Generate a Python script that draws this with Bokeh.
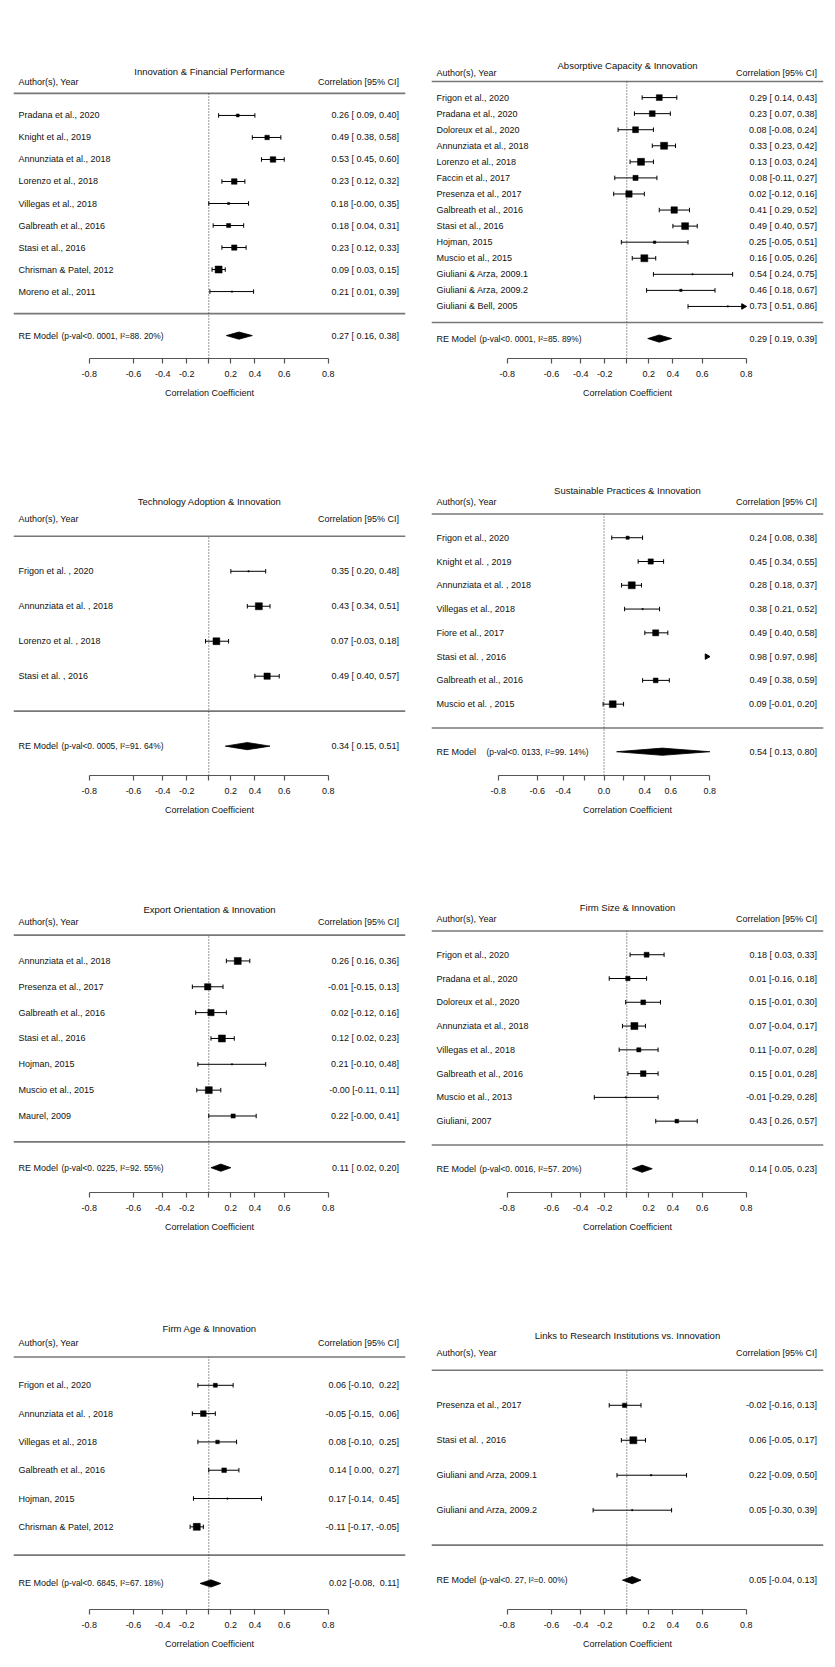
import numpy as np
from bokeh.plotting import figure
from bokeh.layouts import row, column
from bokeh.models import FixedTicker, CustomJSTickFormatter, Range1d, ColumnDataSource
from bokeh.embed import file_html
from bokeh.resources import INLINE
from bokeh.core.properties import value

# ---------------- data ----------------
p1_title = "Innovation & Financial Performance"
p1_studies = ["Pradana et al., 2020", "Knight et al., 2019", "Annunziata et al., 2018",
              "Lorenzo et al., 2018", "Villegas et al., 2018", "Galbreath et al., 2016",
              "Stasi et al., 2016", "Chrisman & Patel, 2012", "Moreno et al., 2011"]
p1_est = [0.26, 0.49, 0.53, 0.23, 0.18, 0.18, 0.23, 0.09, 0.21]
p1_lo = [0.09, 0.38, 0.45, 0.12, -0.0, 0.04, 0.12, 0.03, 0.01]
p1_hi = [0.40, 0.58, 0.60, 0.32, 0.35, 0.31, 0.33, 0.15, 0.39]
p1_re = [0.27, 0.16, 0.38]
p1_stats = "(p-val<0. 0001, I\u00b2=88. 20%)"
p1_i2 = 88.20

p2_title = "Absorptive Capacity & Innovation"
p2_studies = ["Frigon et al., 2020", "Pradana et al., 2020", "Doloreux et al., 2020",
              "Annunziata et al., 2018", "Lorenzo et al., 2018", "Faccin et al., 2017",
              "Presenza et al., 2017", "Galbreath et al., 2016", "Stasi et al., 2016",
              "Hojman, 2015", "Muscio et al., 2015", "Giuliani & Arza, 2009.1",
              "Giuliani & Arza, 2009.2", "Giuliani & Bell, 2005"]
p2_est = [0.29, 0.23, 0.08, 0.33, 0.13, 0.08, 0.02, 0.41, 0.49, 0.25, 0.16, 0.54, 0.46, 0.73]
p2_lo = [0.14, 0.07, -0.08, 0.23, 0.03, -0.11, -0.12, 0.29, 0.40, -0.05, 0.05, 0.24, 0.18, 0.51]
p2_hi = [0.43, 0.38, 0.24, 0.42, 0.24, 0.27, 0.16, 0.52, 0.57, 0.51, 0.26, 0.75, 0.67, 0.86]
p2_re = [0.29, 0.19, 0.39]
p2_stats = "(p-val<0. 0001, I\u00b2=85. 89%)"
p2_i2 = 85.89

p3_title = "Technology Adoption & Innovation"
p3_studies = ["Frigon et al. , 2020", "Annunziata et al. , 2018", "Lorenzo et al. , 2018",
              "Stasi et al. , 2016"]
p3_est = [0.35, 0.43, 0.07, 0.49]
p3_lo = [0.20, 0.34, -0.03, 0.40]
p3_hi = [0.48, 0.51, 0.18, 0.57]
p3_re = [0.34, 0.15, 0.51]
p3_stats = "(p-val<0. 0005, I\u00b2=91. 64%)"
p3_i2 = 91.64

p4_title = "Sustainable Practices & Innovation"
p4_studies = ["Frigon et al., 2020", "Knight et al. , 2019", "Annunziata et al. , 2018",
              "Villegas et al., 2018", "Fiore et al., 2017", "Stasi et al. , 2016",
              "Galbreath et al., 2016", "Muscio et al. , 2015"]
p4_est = [0.24, 0.45, 0.28, 0.38, 0.49, 0.98, 0.49, 0.09]
p4_lo = [0.08, 0.34, 0.18, 0.21, 0.40, 0.97, 0.38, -0.01]
p4_hi = [0.38, 0.55, 0.37, 0.52, 0.58, 0.98, 0.59, 0.20]
p4_re = [0.54, 0.13, 0.80]
p4_stats = "(p-val<0. 0133, I\u00b2=99. 14%)"
p4_i2 = 99.14

p5_title = "Export Orientation & Innovation"
p5_studies = ["Annunziata et al., 2018", "Presenza et al., 2017", "Galbreath et al., 2016",
              "Stasi et al., 2016", "Hojman, 2015", "Muscio et al., 2015", "Maurel, 2009"]
p5_est = [0.26, -0.01, 0.02, 0.12, 0.21, -0.0, 0.22]
p5_lo = [0.16, -0.15, -0.12, 0.02, -0.10, -0.11, -0.0]
p5_hi = [0.36, 0.13, 0.16, 0.23, 0.48, 0.11, 0.41]
p5_re = [0.11, 0.02, 0.20]
p5_stats = "(p-val<0. 0225, I\u00b2=92. 55%)"
p5_i2 = 92.55

p6_title = "Firm Size & Innovation"
p6_studies = ["Frigon et al., 2020", "Pradana et al., 2020", "Doloreux et al., 2020",
              "Annunziata et al., 2018", "Villegas et al., 2018", "Galbreath et al., 2016",
              "Muscio et al., 2013", "Giuliani, 2007"]
p6_est = [0.18, 0.01, 0.15, 0.07, 0.11, 0.15, -0.01, 0.43]
p6_lo = [0.03, -0.16, -0.01, -0.04, -0.07, 0.01, -0.29, 0.26]
p6_hi = [0.33, 0.18, 0.30, 0.17, 0.28, 0.28, 0.28, 0.57]
p6_re = [0.14, 0.05, 0.23]
p6_stats = "(p-val<0. 0016, I\u00b2=57. 20%)"
p6_i2 = 57.20

p7_title = "Firm Age & Innovation"
p7_studies = ["Frigon et al., 2020", "Annunziata et al. , 2018", "Villegas et al., 2018",
              "Galbreath et al., 2016", "Hojman, 2015", "Chrisman & Patel, 2012"]
p7_est = [0.06, -0.05, 0.08, 0.14, 0.17, -0.11]
p7_lo = [-0.10, -0.15, -0.10, 0.00, -0.14, -0.17]
p7_hi = [0.22, 0.06, 0.25, 0.27, 0.45, -0.05]
p7_re = [0.02, -0.08, 0.11]
p7_stats = "(p-val<0. 6845, I\u00b2=67. 18%)"
p7_i2 = 67.18

p8_title = "Links to Research Institutions vs. Innovation"
p8_studies = ["Presenza et al., 2017", "Stasi et al. , 2016", "Giuliani and Arza, 2009.1",
              "Giuliani and Arza, 2009.2"]
p8_est = [-0.02, 0.06, 0.22, 0.05]
p8_lo = [-0.16, -0.05, -0.09, -0.30]
p8_hi = [0.13, 0.17, 0.50, 0.39]
p8_re = [0.05, -0.04, 0.13]
p8_stats = "(p-val<0. 27, I\u00b2=0. 00%)"
p8_i2 = 0.00

tick_values = [-0.8, -0.6, -0.4, -0.2, 0.0, 0.2, 0.4, 0.6, 0.8]
tick_labels_std = ["-0.8", "-0.6", "-0.4", "-0.2", "", "0.2", "0.4", "0.6", "0.8"]
tick_labels_sust = ["-0.8", "-0.6", "-0.4", "", "0.0", "", "0.4", "0.6", "0.8"]
x_label = "Correlation Coefficient"

# ---------------- layout / style ----------------
FONT = "Liberation Sans"
TXT = "#111111"
FRAME_W, FRAME_H = 392, 321
TOP = 37
ROW_H = 417
XR_STD = (-1.795, 1.808)
XR_SUST = (-1.792, 2.279)
ALIM = (float(np.arctanh(-0.8)), float(np.arctanh(0.8)))


def fmt_col(vals):
    s = [f"{v:.2f}" for v in vals]
    w = max(len(x) for x in s)
    return [x.rjust(w, "\u00a0") for x in s]


def square_sizes(lo, hi, i2):
    zl = np.arctanh(np.array(lo, float))
    zh = np.arctanh(np.array(hi, float))
    vi = ((zh - zl) / (2 * 1.959964)) ** 2
    w = 1.0 / vi
    k = len(vi)
    s2 = (k - 1) * w.sum() / (w.sum() ** 2 - (w ** 2).sum())
    tau2 = i2 / (100.0 - i2) * s2
    wr = 1.0 / (vi + tau2)
    rng = wr.max() - wr.min()
    norm = (wr - wr.min()) / rng if rng > 0 else np.ones(k)
    return 1.3 + 5.7 * norm


def make_panel(title, studies, est, lo, hi, re, stats, i2, tick_labels, xr, side,
               last_row, stats_dx=43):
    k = len(studies)
    ext = 0.04 * (k + 4.5)
    y0, y1 = -1.5 - ext, k + 3 + ext
    ppu_y = FRAME_H / (y1 - y0)
    ppu_x = FRAME_W / (xr[1] - xr[0])
    p = figure(frame_width=FRAME_W, frame_height=FRAME_H,
               x_range=Range1d(*xr), y_range=Range1d(y0, y1),
               output_backend="svg", toolbar_location=None, tools="",
               y_axis_location=None,
               min_border_left=13 if side == "L" else 14,
               min_border_right=12,
               min_border_top=TOP,
               min_border_bottom=(50 if last_row else ROW_H - TOP - FRAME_H))
    p.outline_line_color = None
    p.grid.visible = False
    p.background_fill_color = "white"
    p.border_fill_color = "white"

    ys = [k - i for i in range(k)]
    z = np.arctanh(np.array(est, float))
    zl = np.arctanh(np.array(lo, float))
    zh = np.arctanh(np.array(hi, float))

    # header / separator lines
    p.segment(x0=[xr[0], xr[0]], y0=[k + 1, 0], x1=[xr[1], xr[1]], y1=[k + 1, 0],
              line_color="#777777", line_width=1.6)
    # reference line
    p.segment(x0=[0], y0=[y0], x1=[0], y1=[k + 1], line_color="#333333",
              line_width=1, line_dash="1 2")

    # CI segments, caps, clipping arrows
    sx0, sx1, sy = [], [], []
    cx, cy = [], []
    ax_, ay = [], []
    for i in range(k):
        a, b = max(zl[i], ALIM[0]), min(zh[i], ALIM[1])
        if a < b:
            sx0.append(a); sx1.append(b); sy.append(ys[i])
        if ALIM[0] <= zl[i] <= ALIM[1]:
            cx.append(zl[i]); cy.append(ys[i])
        if ALIM[0] <= zh[i] <= ALIM[1]:
            cx.append(zh[i]); cy.append(ys[i])
        if zh[i] > ALIM[1]:
            ax_.append(ALIM[1] - 3.0 / ppu_x); ay.append(ys[i])
    p.segment(x0=sx0, y0=sy, x1=sx1, y1=sy, line_color="black", line_width=1)
    p.scatter(x=cx, y=cy, marker="dash", angle=np.pi / 2, size=4.5,
              line_color="black", line_width=1)
    if ax_:
        p.scatter(x=ax_, y=ay, marker="triangle", angle=-np.pi / 2, size=5.5,
                  fill_color="black", line_color="black")

    sizes = square_sizes(lo, hi, i2)
    inside = [(ALIM[0] <= z[i] <= ALIM[1]) for i in range(k)]
    src = ColumnDataSource(dict(x=[z[i] for i in range(k) if inside[i]],
                                y=[ys[i] for i in range(k) if inside[i]],
                                s=[sizes[i] for i in range(k) if inside[i]]))
    p.scatter(x="x", y="y", size="s", source=src, marker="square",
              fill_color="black", line_color="black", line_width=0.5)

    # RE diamond
    h = 3.6 / ppu_y
    zr = np.arctanh(np.array(re, float))
    p.patch(x=[zr[1], zr[0], zr[2], zr[0]], y=[-1, -1 + h, -1, -1 - h],
            fill_color="black", line_color="black", line_width=0.8)

    # texts
    lo_s = fmt_col(list(lo) + [re[1]])
    hi_s = fmt_col(list(hi) + [re[2]])
    est_s = [f"{v:.2f}" for v in list(est) + [re[0]]]
    ci_txt = [f"{e} [{l}, {u}]" for e, l, u in zip(est_s, lo_s, hi_s)]

    common = dict(text_font=value(FONT), text_color=TXT, text_baseline="middle")
    p.text(x=[xr[0]] * (k + 1), y=ys + [-1], text=studies + ["RE Model"],
           text_align="left", x_offset=5, text_font_size="9px", **common)
    p.text(x=[xr[0]], y=[-1], text=[stats], text_align="left", x_offset=5 + stats_dx,
           text_font_size="8.4px", **common)
    p.text(x=[xr[1]] * (k + 1), y=ys + [-1], text=ci_txt, text_align="right",
           x_offset=-6.5, text_font_size="9px", **common)
    p.text(x=[xr[0]], y=[k + 1.5], text=["Author(s), Year"], text_align="left",
           x_offset=5, text_font_size="9px", **common)
    p.text(x=[xr[1]], y=[k + 1.5], text=["Correlation [95% CI]"], text_align="right",
           x_offset=-6.5, text_font_size="9px", **common)
    p.text(x=[(xr[0] + xr[1]) / 2], y=[k + 2], text=[title], text_align="center",
           text_font_size="9.5px", **common)

    ax = p.xaxis[0]
    ax.ticker = FixedTicker(ticks=[float(np.arctanh(t)) for t in tick_values])
    ax.formatter = CustomJSTickFormatter(args=dict(labels=tick_labels),
                                         code="return labels[index];")
    ax.bounds = ALIM
    ax.axis_line_color = "#555555"
    ax.axis_line_width = 1.2
    ax.major_tick_line_color = "#555555"
    ax.major_tick_line_width = 1.2
    ax.major_tick_in = 0
    ax.major_tick_out = 5
    ax.minor_tick_line_color = None
    ax.major_label_standoff = 7
    ax.major_label_text_font = FONT
    ax.major_label_text_font_size = "9px"
    ax.major_label_text_color = TXT
    ax.axis_label = x_label
    ax.axis_label_text_font = FONT
    ax.axis_label_text_font_size = "9px"
    ax.axis_label_text_font_style = "normal"
    ax.axis_label_text_color = TXT
    ax.axis_label_standoff = 8
    return p


f1 = make_panel(p1_title, p1_studies, p1_est, p1_lo, p1_hi, p1_re, p1_stats, p1_i2,
                tick_labels_std, XR_STD, "L", False)
f2 = make_panel(p2_title, p2_studies, p2_est, p2_lo, p2_hi, p2_re, p2_stats, p2_i2,
                tick_labels_std, XR_STD, "R", False)
f3 = make_panel(p3_title, p3_studies, p3_est, p3_lo, p3_hi, p3_re, p3_stats, p3_i2,
                tick_labels_std, XR_STD, "L", False)
f4 = make_panel(p4_title, p4_studies, p4_est, p4_lo, p4_hi, p4_re, p4_stats, p4_i2,
                tick_labels_sust, XR_SUST, "R", False, stats_dx=50)
f5 = make_panel(p5_title, p5_studies, p5_est, p5_lo, p5_hi, p5_re, p5_stats, p5_i2,
                tick_labels_std, XR_STD, "L", False)
f6 = make_panel(p6_title, p6_studies, p6_est, p6_lo, p6_hi, p6_re, p6_stats, p6_i2,
                tick_labels_std, XR_STD, "R", False)
f7 = make_panel(p7_title, p7_studies, p7_est, p7_lo, p7_hi, p7_re, p7_stats, p7_i2,
                tick_labels_std, XR_STD, "L", True)
f8 = make_panel(p8_title, p8_studies, p8_est, p8_lo, p8_hi, p8_re, p8_stats, p8_i2,
                tick_labels_std, XR_STD, "R", True)

layout = column(row(f1, f2), row(f3, f4), row(f5, f6), row(f7, f8))
open("out.html", "w").write(file_html(layout, INLINE))
